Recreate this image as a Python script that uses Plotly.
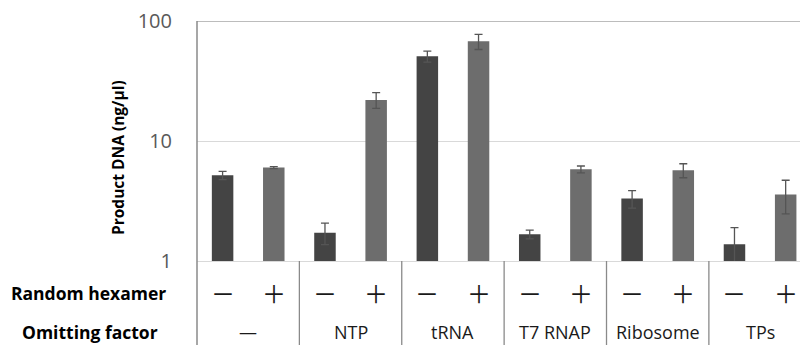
import plotly.graph_objects as go

groups = ["—", "NTP", "tRNA", "T7 RNAP", "Ribosome", "TPs"]
hexamer_labels = ["－", "＋"]
minus_vals = [5.18, 1.72, 50.8, 1.67, 3.31, 1.38]
minus_err = [0.41, 0.35, 5.4, 0.14, 0.55, 0.52]
plus_vals = [6.0, 21.97, 67.7, 5.81, 5.7, 3.59]
plus_err = [0.12, 3.3, 9.8, 0.38, 0.76, 1.12]
y_ticks = [1, 10, 100]
y_title = "Product DNA (ng/μl)"
row_titles = ["Random hexamer", "Omitting factor"]

W, H = 800, 345
ML, MR, MT, MB = 197, 0, 21, 84
PW, PH = W - ML - MR, H - MT - MB

def px_to_paper_y(py):
    return (H - MB - py) / PH

def px_to_paper_x(px):
    return (px - ML) / PW

x_minus = [2 * i for i in range(len(groups))]
x_plus = [2 * i + 1 for i in range(len(groups))]

fig = go.Figure()
fig.add_trace(go.Bar(
    x=x_minus, y=minus_vals, width=0.42, marker=dict(color="#444444", line=dict(width=0)),
    error_y=dict(type="data", array=minus_err, color="#555555", thickness=1.3, width=4),
    showlegend=False,
))
fig.add_trace(go.Bar(
    x=x_plus, y=plus_vals, width=0.42, marker=dict(color="#6d6d6d", line=dict(width=0)),
    error_y=dict(type="data", array=plus_err, color="#555555", thickness=1.3, width=4),
    showlegend=False,
))

shapes = []
shapes.append(dict(type="line", xref="paper", yref="y", x0=0, x1=1, y0=100, y1=100,
                   line=dict(color="#a6a6a6", width=1.6)))
shapes.append(dict(type="line", xref="paper", yref="paper", x0=0, x1=0, y0=1, y1=-MB / PH,
                   line=dict(color="#8a8a8a", width=1.5)))
for i in range(1, len(groups)):
    xs = 2 * i - 0.5
    shapes.append(dict(type="line", xref="x", yref="paper", x0=xs, x1=xs, y0=0, y1=-MB / PH,
                       line=dict(color="#8a8a8a", width=1.3)))

annotations = []
for i, g in enumerate(groups):
    for j, s in enumerate(hexamer_labels):
        annotations.append(dict(x=2 * i + j, y=px_to_paper_y(292.5), xref="x", yref="paper",
                                text=s, showarrow=False, xanchor="center", yanchor="middle",
                                font=dict(family="Noto Sans CJK JP", size=24, color="#1a1a1a")))
    annotations.append(dict(x=2 * i + 0.5, y=px_to_paper_y(331.5), xref="x", yref="paper",
                            text=g, showarrow=False, xanchor="center", yanchor="middle",
                            font=dict(family="Open Sans", size=18, color="#1a1a1a")))
annotations.append(dict(x=px_to_paper_x(88.5), y=px_to_paper_y(292.5), xref="paper", yref="paper",
                        text="<b>" + row_titles[0] + "</b>", showarrow=False,
                        xanchor="center", yanchor="middle",
                        font=dict(family="Open Sans", size=17.5, color="#000000")))
annotations.append(dict(x=px_to_paper_x(90), y=px_to_paper_y(331.5), xref="paper", yref="paper",
                        text="<b>" + row_titles[1] + "</b>", showarrow=False,
                        xanchor="center", yanchor="middle",
                        font=dict(family="Open Sans", size=17.5, color="#000000")))
annotations.append(dict(x=px_to_paper_x(118), y=px_to_paper_y(158), xref="paper", yref="paper",
                        text="<b>" + y_title + "</b>", showarrow=False, textangle=-90,
                        xanchor="center", yanchor="middle",
                        font=dict(family="Open Sans", size=15.5, color="#000000")))

fig.update_layout(
    width=W, height=H,
    margin=dict(l=ML, r=MR, t=MT, b=MB, pad=0),
    paper_bgcolor="white", plot_bgcolor="white",
    barmode="overlay",
    shapes=shapes, annotations=annotations,
    xaxis=dict(range=[-0.5, 11.28], showticklabels=False, ticks="", showgrid=False,
               zeroline=False, showline=True, linecolor="#d9d9d9", linewidth=1, fixedrange=True),
    yaxis=dict(type="log", range=[0, 2], tickvals=y_ticks, ticktext=[str(v) for v in y_ticks],
               tickfont=dict(family="Open Sans", size=20, color="#595959"),
               showgrid=True, gridcolor="#d9d9d9", gridwidth=1, ticks="",
               ticklabelstandoff=24, showline=False, zeroline=False, fixedrange=True),
)

fig.write_html("out.html", config={"staticPlot": True},
               post_script="document.body.style.margin='0';document.body.style.overflow='hidden';")
